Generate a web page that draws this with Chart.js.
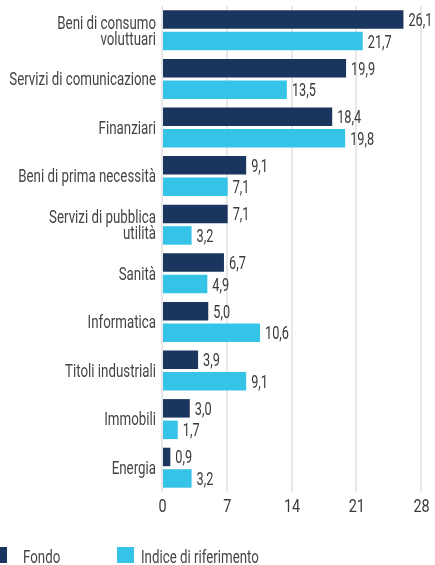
<!DOCTYPE html>
<html>
<head>
<meta charset="utf-8">
<script src="https://cdn.jsdelivr.net/npm/chart.js@4/dist/chart.umd.min.js"></script>
<style>
  html, body { margin: 0; padding: 0; background: #fff; }
  #wrap { position: relative; width: 435px; height: 565px; overflow: hidden; }
</style>
</head>
<body>
<div id="wrap">
  <canvas id="c" width="435" height="565"></canvas>
</div>
<script>
const categories = [
  ["Beni di consumo", "voluttuari"],
  "Servizi di comunicazione",
  "Finanziari",
  "Beni di prima necessità",
  ["Servizi di pubblica", "utilità"],
  "Sanità",
  "Informatica",
  "Titoli industriali",
  "Immobili",
  "Energia"
];
const fondo = [26.1, 19.9, 18.4, 9.1, 7.1, 6.7, 5.0, 3.9, 3.0, 0.9];
const indice = [21.7, 13.5, 19.8, 7.1, 3.2, 4.9, 10.6, 9.1, 1.7, 3.2];
const seriesNames = ["Fondo", "Indice di riferimento"];
const seriesColors = ["#1b365e", "#35c3e8"];
const xTicks = [0, 7, 14, 21, 28];

const FAMILY = "Roboto, 'Liberation Sans', sans-serif";
const SX = 0.72;

function txt(ctx, s, x, y, align, size, color, sx) {
  ctx.save();
  ctx.font = "400 " + size + "px " + FAMILY;
  ctx.fillStyle = color;
  ctx.textAlign = align;
  ctx.textBaseline = "alphabetic";
  ctx.translate(x, y);
  ctx.scale(sx || SX, 1);
  ctx.fillText(s, 0, 0);
  ctx.restore();
}

const customText = {
  id: 'customText',
  afterDraw(chart) {
    const ctx = chart.ctx;
    const ys = chart.scales.y, xs = chart.scales.x;
    // category labels
    categories.forEach((c, i) => {
      const cy = ys.getPixelForTick(i);
      const lines = Array.isArray(c) ? c : [c];
      const lh = 16;
      const y0 = cy - (lines.length - 1) * lh / 2 + 6.3;
      lines.forEach((l, k) => txt(ctx, l, 156, y0 + k * lh, 'right', 18.5, '#444'));
    });
    // x tick labels
    xTicks.forEach(v => {
      txt(ctx, String(v), xs.getPixelForValue(v) + 0.5, 512, 'center', 19, '#3a3a3a', 0.76);
    });
    // value labels
    chart.data.datasets.forEach((ds, di) => {
      chart.getDatasetMeta(di).data.forEach((bar, i) => {
        const v = ds.data[i];
        txt(ctx, v.toFixed(1).replace('.', ','), bar.x + 5, bar.y + 6.5, 'left', 19, '#3a3a3a', 0.67);
      });
    });
    // legend
    ctx.save();
    ctx.fillStyle = seriesColors[0];
    ctx.fillRect(-10, 547, 17, 16);
    ctx.fillStyle = seriesColors[1];
    ctx.fillRect(117, 547, 17, 16);
    ctx.restore();
    txt(ctx, seriesNames[0], 23, 563, 'left', 19, '#444', 0.7);
    txt(ctx, seriesNames[1], 141, 563, 'left', 19, '#444', 0.7);
  }
};

new Chart(document.getElementById('c'), {
  type: 'bar',
  data: {
    labels: categories,
    datasets: [
      { label: seriesNames[0], data: fondo, backgroundColor: seriesColors[0],
        categoryPercentage: 0.885, barPercentage: 0.86 },
      { label: seriesNames[1], data: indice, backgroundColor: seriesColors[1],
        categoryPercentage: 0.885, barPercentage: 0.86 }
    ]
  },
  options: {
    indexAxis: 'y',
    responsive: false,
    animation: false,
    layout: { padding: { top: 6, right: 14, bottom: 43, left: 0 } },
    plugins: { legend: { display: false }, tooltip: { enabled: false } },
    scales: {
      x: {
        min: 0, max: 28,
        afterBuildTicks(scale) { scale.ticks = xTicks.map(v => ({ value: v })); },
        afterFit(scale) { scale.height = 30; scale.paddingLeft = 0; scale.paddingRight = 0; },
        grid: { color: '#e8e8e8', lineWidth: 2, drawTicks: false },
        border: { display: false },
        ticks: { padding: 4, color: 'rgba(0,0,0,0)', font: { family: FAMILY, size: 1 } }
      },
      y: {
        afterFit(scale) { scale.width = 162; scale.paddingTop = 0; scale.paddingBottom = 0; },
        grid: { display: false, drawTicks: false },
        border: { display: false },
        ticks: { padding: 6, color: 'rgba(0,0,0,0)', font: { family: FAMILY, size: 1, lineHeight: 1.0 } }
      }
    }
  },
  plugins: [customText]
});
</script>
</body>
</html>
